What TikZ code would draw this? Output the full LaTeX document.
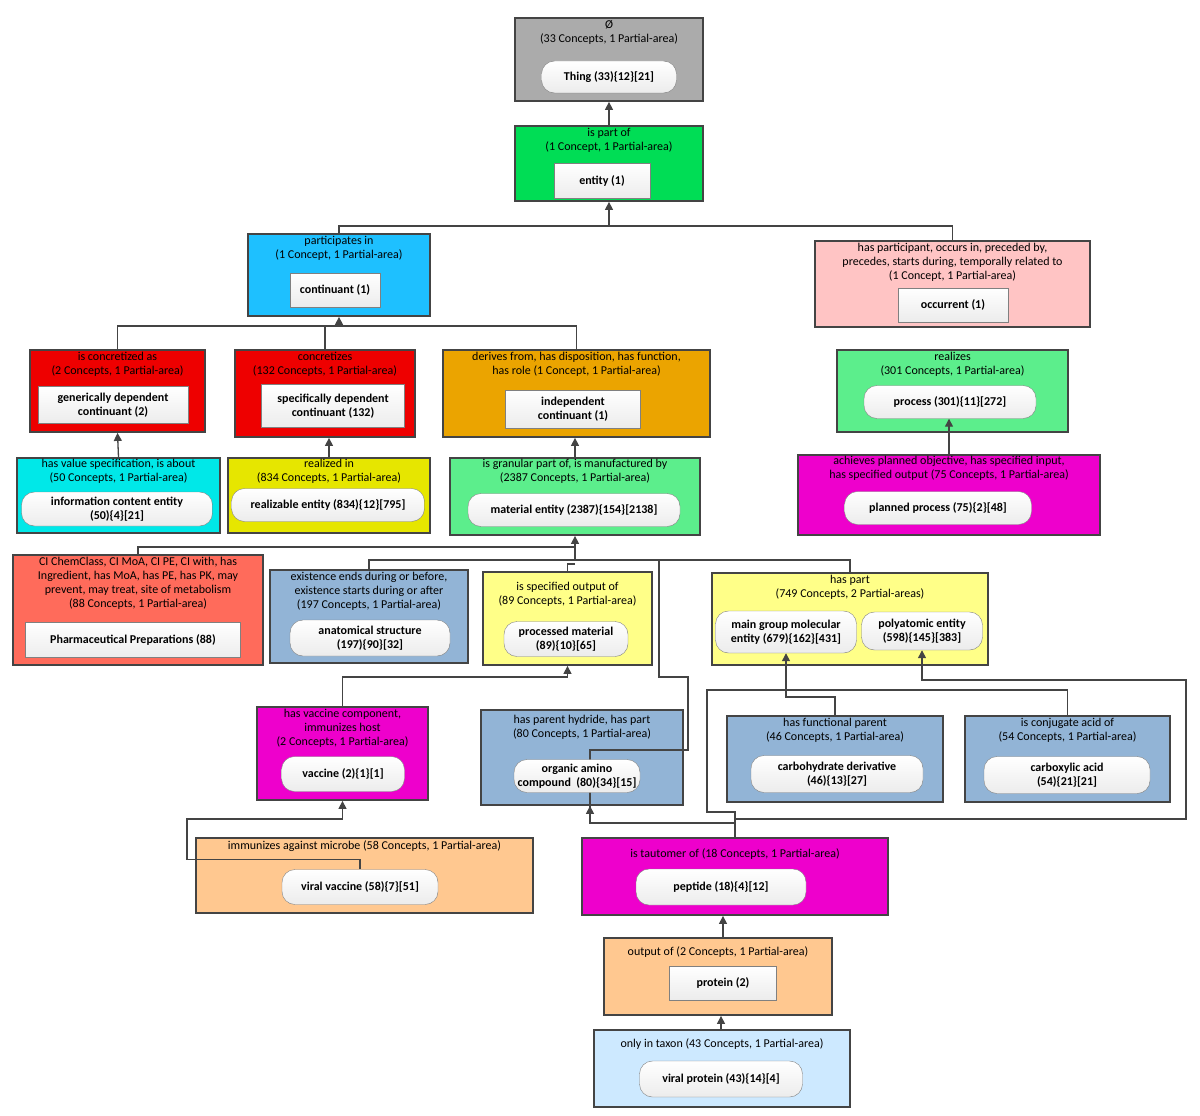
\documentclass[tikz,border=0pt]{standalone}
\usepackage{fontspec}
\setmainfont{Carlito}
\usetikzlibrary{arrows.meta,positioning}
\pgfdeclarelayer{boxes}
\pgfdeclarelayer{wires}
\pgfsetlayers{boxes,wires,main}
\definecolor{cgray}{HTML}{ABABAB}
\definecolor{cgreen}{HTML}{00DD55}
\definecolor{cblue}{HTML}{1EC0FF}
\definecolor{cpink}{HTML}{FFC4C4}
\definecolor{cred}{HTML}{EE0000}
\definecolor{corange}{HTML}{EBA400}
\definecolor{clgreen}{HTML}{5CEE8C}
\definecolor{ccyan}{HTML}{00E8E8}
\definecolor{cyell}{HTML}{E6E600}
\definecolor{cmag}{HTML}{EE00CC}
\definecolor{csalmon}{HTML}{FF6B5B}
\definecolor{csteel}{HTML}{92B4D6}
\definecolor{clyell}{HTML}{FFFF88}
\definecolor{clorange}{HTML}{FFC890}
\definecolor{cpale}{HTML}{CDE9FF}
\definecolor{cline}{HTML}{444444}

\begin{document}
\begin{tikzpicture}[x=1pt,y=-1pt,
  grp/.style={draw=cline,line width=1.8pt,inner sep=0pt},
  hdr/.style={anchor=north,align=center,inner sep=0pt,yshift=-3pt,
    font=\fontsize{12}{14}\selectfont},
  pa/.style={draw=gray,rounded corners=13pt,top color=white,bottom color=gray!15,
    align=center,inner sep=1pt,font=\fontsize{12}{14}\selectfont\bfseries},
  pr/.style={pa,rounded corners=0pt},
  link/.style={draw=cline,line width=1.3pt},
  arr/.style={link,-{Triangle[length=8pt,width=8pt]}}]
\useasboundingbox (0,0) rectangle (1200,1116);

% group boxes
\begin{pgfonlayer}{boxes}
\node[grp,fill=cgray,minimum width=188,minimum height=83] (thingG) at (609,59.5) {};
\node[grp,fill=cgreen,minimum width=188,minimum height=75] (entityG) at (609,163.5) {};
\node[grp,fill=cblue,minimum width=182,minimum height=82] (contG) at (339,275) {};
\node[grp,fill=cpink,minimum width=275,minimum height=86] (occG) at (952.5,284) {};
\node[grp,fill=cred,minimum width=175,minimum height=82] (gendepG) at (117.5,391) {};
\node[grp,fill=cred,minimum width=180,minimum height=87] (specG) at (325,393.5) {};
\node[grp,fill=corange,minimum width=267,minimum height=87] (indepG) at (576.5,393.5) {};
\node[grp,fill=clgreen,minimum width=231,minimum height=82] (procG) at (952.5,391) {};
\node[grp,fill=ccyan,minimum width=203,minimum height=75] (infoG) at (118.5,495.5) {};
\node[grp,fill=cyell,minimum width=202,minimum height=75] (realG) at (329,495.5) {};
\node[grp,fill=clgreen,minimum width=250,minimum height=77] (matG) at (575,496.5) {};
\node[grp,fill=cmag,minimum width=302,minimum height=80] (planG) at (949,495) {};
\node[grp,fill=csalmon,minimum width=250,minimum height=110] (pharmaG) at (138,610) {};
\node[grp,fill=csteel,minimum width=198,minimum height=93] (anatG) at (369,616.5) {};
\node[grp,fill=clyell,minimum width=169,minimum height=93] (procmG) at (567.5,618.5) {};
\node[grp,fill=clyell,minimum width=276,minimum height=92] (partG) at (850,619) {};
\node[grp,fill=cmag,minimum width=171,minimum height=93] (vaccG) at (342.5,753.5) {};
\node[grp,fill=csteel,minimum width=202,minimum height=95] (orgG) at (582,757.5) {};
\node[grp,fill=csteel,minimum width=216,minimum height=86] (carboG) at (835,759) {};
\node[grp,fill=csteel,minimum width=205,minimum height=86] (carboxG) at (1067.5,759) {};
\node[grp,fill=clorange,minimum width=337,minimum height=75] (vvG) at (364.5,875.5) {};
\node[grp,fill=cmag,minimum width=306,minimum height=77] (pepG) at (735,876.5) {};
\node[grp,fill=clorange,minimum width=228,minimum height=77] (protG) at (718,976.5) {};
\node[grp,fill=cpale,minimum width=256,minimum height=77] (vpG) at (722,1068.5) {};
\end{pgfonlayer}

% headers
\node[hdr] at (thingG.north) {Ø\\(33 Concepts, 1 Partial-area)};
\node[hdr] at (entityG.north) {is part of\\(1 Concept, 1 Partial-area)};
\node[hdr] at (contG.north) {participates in\\(1 Concept, 1 Partial-area)};
\node[hdr] at (occG.north) {has participant, occurs in, preceded by,\\precedes, starts during, temporally related to\\(1 Concept, 1 Partial-area)};
\node[hdr] at (gendepG.north) {is concretized as\\(2 Concepts, 1 Partial-area)};
\node[hdr] at (specG.north) {concretizes\\(132 Concepts, 1 Partial-area)};
\node[hdr] at (indepG.north) {derives from, has disposition, has function,\\has role (1 Concept, 1 Partial-area)};
\node[hdr] at (procG.north) {realizes\\(301 Concepts, 1 Partial-area)};
\node[hdr,yshift=1pt] at (infoG.north) {has value specification, is about\\(50 Concepts, 1 Partial-area)};
\node[hdr,yshift=1pt] at (realG.north) {realized in\\(834 Concepts, 1 Partial-area)};
\node[hdr,yshift=1pt] at (matG.north) {is granular part of, is manufactured by\\(2387 Concepts, 1 Partial-area)};
\node[hdr,yshift=1pt] at (planG.north) {achieves planned objective, has specified input,\\has specified output (75 Concepts, 1 Partial-area)};
\node[hdr] at (pharmaG.north) {CI ChemClass, CI MoA, CI PE, CI with, has\\Ingredient, has MoA, has PE, has PK, may\\prevent, may treat, site of metabolism\\(88 Concepts, 1 Partial-area)};
\node[hdr] at (anatG.north) {existence ends during or before,\\existence starts during or after\\(197 Concepts, 1 Partial-area)};
\node[hdr,yshift=-8pt] at (procmG.north) {is specified output of\\(89 Concepts, 1 Partial-area)};
\node[hdr] at (partG.north) {has part\\(749 Concepts, 2 Partial-areas)};
\node[hdr] at (vaccG.north) {has vaccine component,\\immunizes host\\(2 Concepts, 1 Partial-area)};
\node[hdr,yshift=-3pt] at (orgG.north) {has parent hydride, has part\\(80 Concepts, 1 Partial-area)};
\node[hdr] at (carboG.north) {has functional parent\\(46 Concepts, 1 Partial-area)};
\node[hdr] at (carboxG.north) {is conjugate acid of\\(54 Concepts, 1 Partial-area)};
\node[hdr] at (vvG.north) {immunizes against microbe (58 Concepts, 1 Partial-area)};
\node[hdr,yshift=-8pt] at (pepG.north) {is tautomer of (18 Concepts, 1 Partial-area)};
\node[hdr,yshift=-6pt] at (protG.north) {output of (2 Concepts, 1 Partial-area)};
\node[hdr,yshift=-6pt] at (vpG.north) {only in taxon (43 Concepts, 1 Partial-area)};

% partial-areas
\node[pa,minimum width=135,minimum height=32] (thingI) at (609,77) {Thing (33)\{12\}[21]};
\node[pr,minimum width=96,minimum height=35] (entityI) at (602,181) {entity (1)};
\node[pr,minimum width=90,minimum height=34] (contI) at (335,290) {continuant (1)};
\node[pr,minimum width=110,minimum height=34] (occI) at (953,305) {occurrent (1)};
\node[pr,minimum width=150,minimum height=37] (gendepI) at (113,405) {generically dependent\\continuant (2)};
\node[pr,minimum width=143,minimum height=43] (specI) at (333,406) {specifically dependent\\continuant (132)};
\node[pr,minimum width=135,minimum height=38] (indepI) at (573,409) {independent\\continuant (1)};
\node[pa,minimum width=172,minimum height=33] (procI) at (950,402) {process (301)\{11\}[272]};
\node[pa,minimum width=191,minimum height=34] (infoI) at (117,509) {information content entity\\(50)\{4\}[21]};
\node[pa,minimum width=193,minimum height=33] (realI) at (328,505) {realizable entity (834)\{12\}[795]};
\node[pa,minimum width=212,minimum height=33] (matI) at (574,510) {material entity (2387)\{154\}[2138]};
\node[pa,minimum width=187,minimum height=33] (planI) at (938,508) {planned process (75)\{2\}[48]};
\node[pr,minimum width=215,minimum height=35] (pharmaI) at (133,640) {Pharmaceutical Preparations (88)};
\node[pa,minimum width=160,minimum height=36] (anatI) at (370,638) {anatomical structure\\(197)\{90\}[32]};
\node[pa,minimum width=124,minimum height=35] (procmI) at (566,639) {processed material\\(89)\{10\}[65]};
\node[pa,minimum width=141,minimum height=42] (mainI) at (786,632) {main group molecular\\entity (679)\{162\}[431]};
\node[pa,minimum width=121,minimum height=38] (polyI) at (922,631) {polyatomic entity\\(598)\{145\}[383]};
\node[pa,minimum width=123,minimum height=35] (vaccI) at (343,774) {vaccine (2)\{1\}[1]};
\node[pa,minimum width=126,minimum height=33] (orgI) at (577,776) {organic amino\\compound~~(80)\{34\}[15]};
\node[pa,minimum width=172,minimum height=37] (carboI) at (837,774) {carbohydrate derivative\\(46)\{13\}[27]};
\node[pa,minimum width=166,minimum height=37] (carboxI) at (1067,775) {carboxylic acid\\(54)\{21\}[21]};
\node[pa,minimum width=156,minimum height=35] (vvI) at (360,887) {viral vaccine (58)\{7\}[51]};
\node[pa,minimum width=170,minimum height=36] (pepI) at (721,887) {peptide (18)\{4\}[12]};
\node[pr,minimum width=107,minimum height=34] (protI) at (723,983) {protein (2)};
\node[pa,minimum width=163,minimum height=36] (vpI) at (721,1079) {viral protein (43)\{14\}[4]};

% connectors
\begin{pgfonlayer}{wires}
\draw[arr] (entityG.north) -- (thingG.south);
\draw[link] (contG.north) |- (occG.north |- 0,226) -- (occG.north);
\draw[arr] (609,226) -- (entityG.south);
\draw[link] (gendepG.north) |- (indepG.north |- 0,326) -- (indepG.north);
\draw[link] (specG.north) -- ++(0,-24);
\draw[arr] (339,326) -- (contG.south);
\draw[arr] (infoG.north) -- (gendepG.south);
\draw[arr] (realG.north) -- (realG.north |- specG.south);
\draw[arr] (matG.north) -- (matG.north |- indepG.south);
\draw[arr] (planG.north) -- (planG.north |- procI.south);
\draw[link] (pharmaG.north) |- (575,547);
\draw[link] (anatG.north) |- (partG.north |- 0,560) -- (partG.north);
\draw[link] (procmG.north) |- (575,564);
\draw[arr] (575,560) -- (matG.south);
\draw[arr] (vaccG.north) |- (procmG.south |- 0,677) -- (procmG.south);
\draw[arr] (vvI.north) -- ++(0,-10) -| (187,819) -| (vaccG.south);
\draw[link] (pepG.north) -- (735,823) -| (590,750) -| (688,677) -| (659,560);
\draw[arr] (590,823) -- (orgG.south -| 590,0);
\draw[link] (735,823) -- (735,812) -| (707,690) -| (carboxG.north);
\draw[arr] (carboG.north) |- (mainI.south |- 0,697) -- (mainI.south);
\draw[arr] (735,819) -| (1186,680) -| (polyI.south);
\draw[arr] (protI.north |- protG.north) -- (protI.north |- pepG.south);
\draw[arr] (vpI.north |- vpG.north) -- (vpI.north |- protG.south);
\end{pgfonlayer}
\end{tikzpicture}
\end{document}
